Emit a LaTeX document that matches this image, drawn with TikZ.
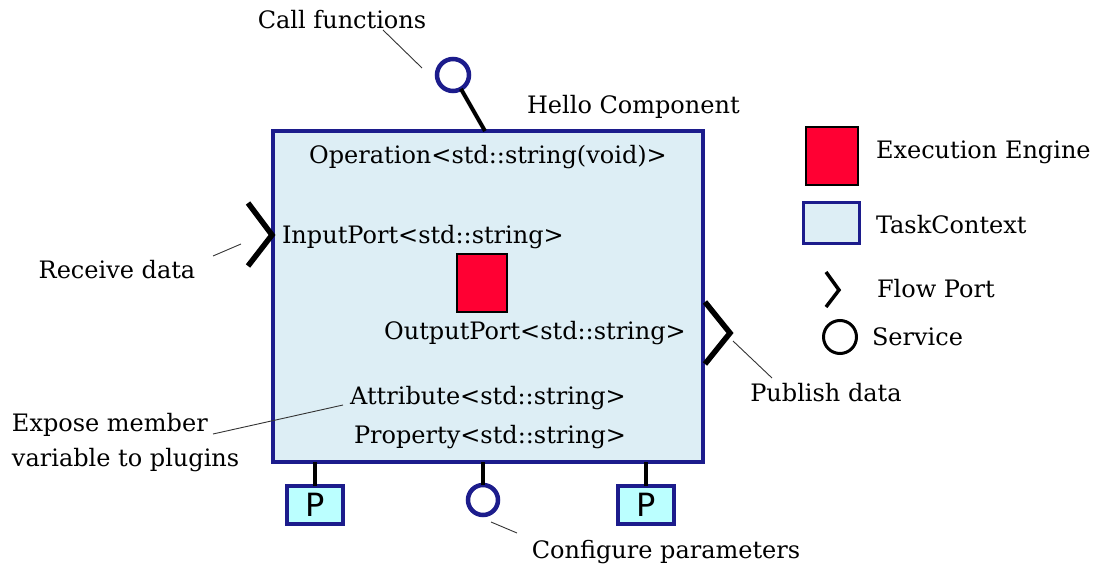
\documentclass[tikz,border=0pt]{standalone}
\usepackage{fontspec}
\setmainfont{DejaVu Serif}
\setsansfont{DejaVu Sans}
\begin{document}
\begin{tikzpicture}[x=1pt,y=-1pt,
  every node/.style={inner sep=0pt,outer sep=0pt},
  lbl/.style={font=\fontsize{24}{35}\selectfont},
  boxblue/.style={draw=tcblue,line width=4.5pt,fill=tcfill},
  engine/.style={draw=black,line width=2pt,fill=engred},
  svc/.style={circle,draw=tcblue,line width=4.5pt,fill=white,minimum size=32pt},
  stem/.style={line width=4pt,black},
  chev/.style={line width=5.5pt,black,line join=miter},
  leader/.style={line width=0.9pt,black!80},
  pbox/.style={draw=tcblue,line width=3.5pt,fill=pcyan,minimum width=56pt,minimum height=38pt,font=\sffamily\fontsize{32}{32}\selectfont}]
\definecolor{tcblue}{RGB}{28,28,140}
\definecolor{tcfill}{RGB}{221,238,245}
\definecolor{engred}{RGB}{255,0,51}
\definecolor{pcyan}{RGB}{187,255,255}
\useasboundingbox (0,0) rectangle (1098,572);
% main component
\node[boxblue,minimum width=430pt,minimum height=331pt,anchor=north west] (comp) at (273,131) {};
\node[lbl,anchor=base west] (hello) at (527,114) {Hello Component};
\node[lbl] (op) at (488,157) {Operation<std::string(void)>};
\node[lbl,anchor=west] (inp) at (282,237) {InputPort<std::string>};
\node[engine,minimum width=50pt,minimum height=57pt] (ee) at (482,283) {};
\node[lbl] (outp) at (535,333) {OutputPort<std::string>};
\node[lbl] (attr) at (488,398) {Attribute<std::string>};
\node[lbl] (prop) at (490,437) {Property<std::string>};
% top service
\node[svc] (topsvc) at (453,75) {};
\coordinate (topstem) at (485,131);
\draw[stem] (topsvc) -- (topstem);
\node[lbl] (callf) at (342,20) {Call functions};
\coordinate (callA) at (383,30);
\coordinate (callB) at (422,68);
\draw[leader] (callA) -- (callB);
% input port
\coordinate (in1) at (248,203);
\coordinate (in2) at (272,235);
\coordinate (in3) at (248,266);
\draw[chev] (in1) -- (in2) -- (in3);
\node[lbl] (recv) at (117,270) {Receive data};
\coordinate (recvA) at (213,256);
\coordinate (recvB) at (241,244);
\draw[leader] (recvA) -- (recvB);
% output port
\coordinate (out1) at (705,302);
\coordinate (out2) at (730,333);
\coordinate (out3) at (705,364);
\draw[chev] (out1) -- (out2) -- (out3);
\node[lbl] (pub) at (826,393) {Publish data};
\coordinate (pubA) at (733,341);
\coordinate (pubB) at (772,378);
\draw[leader] (pubA) -- (pubB);
% expose
\node[lbl,anchor=base west,align=left] (expose) at (12,466) {Expose member\\variable to plugins};
\coordinate (expA) at (213,434);
\coordinate (expB) at (343,405);
\draw[leader] (expA) -- (expB);
% bottom
\node[pbox] (p1) at (315,505) {P};
\node[pbox] (p2) at (646,505) {P};
\node[svc,minimum size=30pt] (botsvc) at (483,500) {};
\draw[stem] (p1.north) -- (p1.north |- comp.south);
\draw[stem] (p2.north) -- (p2.north |- comp.south);
\draw[stem] (botsvc.north) -- (botsvc.north |- comp.south);
\node[lbl] (conf) at (666,552) {Configure parameters};
\coordinate (confA) at (491,522);
\coordinate (confB) at (517,533);
\draw[leader] (confA) -- (confB);
% legend
\node[engine,minimum width=52pt,minimum height=58pt] (lgee) at (832,156) {};
\node[lbl,anchor=west] (lgeet) at (876,152) {Execution Engine};
\node[draw=tcblue,line width=3pt,fill=tcfill,minimum width=56pt,minimum height=41pt] (lgtc) at (831,223) {};
\node[lbl,anchor=west] (lgtct) at (876,225) {TaskContext};
\coordinate (lf1) at (826,272);
\coordinate (lf2) at (839,290);
\coordinate (lf3) at (826,307);
\draw[line width=3.5pt,black] (lf1) -- (lf2) -- (lf3);
\node[lbl,anchor=west] (lgfp) at (877,289) {Flow Port};
\node[circle,draw=black,line width=3pt,minimum size=33pt] (lgsv) at (840,337) {};
\node[lbl,anchor=west] (lgsvt) at (872,337) {Service};
\end{tikzpicture}
\end{document}
